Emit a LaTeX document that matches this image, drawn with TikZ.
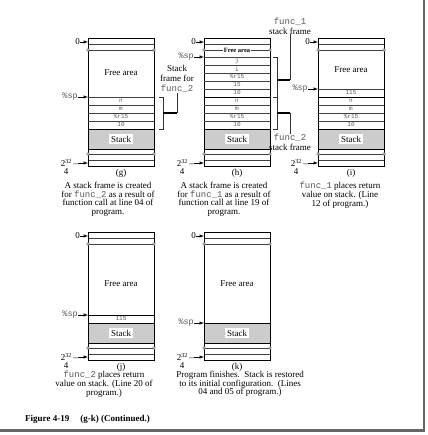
\documentclass[tikz,border=0pt]{standalone}
\usepackage{fontspec}
\setmainfont{Liberation Serif}
\setmonofont{Liberation Mono}
\usepackage{tikz}
\usetikzlibrary{shapes,arrows,positioning,calc}
\usepackage{xcolor}
\definecolor{stackgray}{gray}{0.8}
\definecolor{codegray}{gray}{0.35}
\newcommand{\cd}[1]{\textcolor{codegray}{\texttt{#1}}}

\begin{document}
\begin{tikzpicture}[x=1pt,y=-1pt,
        txt/.style={font=\fontsize{9}{8.7}\selectfont, inner sep=0pt, align=center},
        code/.style={font=\ttfamily\fontsize{8.5}{8.7}\selectfont, text=codegray, inner sep=0pt},
        cell/.style={font=\ttfamily\fontsize{6}{6}\selectfont, text=codegray, inner sep=0pt},
        ptr/.style={-latex, line width=0.5pt},
        frame/.style={line width=0.7pt},
        sep/.style={line width=0.35pt, black!75},
        bolt/.style={circle, draw=black!70, fill=gray!55, line width=0.3pt, inner sep=0pt, minimum size=3pt},
        brak/.style={line width=0.4pt, black!80},
        lead/.style={line width=1.5pt}]
    \useasboundingbox (0,0) rectangle (427,435);
    % the five memory pictures
    \foreach \px/\py/\nr/\lab in {88/38/4/g,204/38/9/h,318/38/5/i,88/232/1/j,204/232/0/k} {
        \pgfmathsetmacro{\spy}{\py+91-8*\nr}
        \draw[fill=stackgray,frame] (\px,\py+91) rectangle (\px+66,\py+111);
        \foreach \dy in {6,12,116,122}
            \draw[sep] (\px,\py+\dy) -- (\px+66,\py+\dy);
        \draw[frame] (\px,\spy) -- (\px+66,\spy);
        \draw[frame] (\px,\py) rectangle (\px+66,\py+128);
        \foreach \dx in {0,66} {
            \foreach \dy in {12,116} {
                \node[bolt] at (\px+\dx,\py+\dy) {};
            }
        }
        \node[txt, fill=white, inner sep=1.6pt] (stack-\lab) at (\px+33,\py+101) {Stack};
        % address labels
        \coordinate (lo-\lab) at (\px,\py+4);
        \coordinate (sp-\lab) at (\px,\spy);
        \coordinate (hi-\lab) at (\px,\py+125);
        \node[txt, anchor=east] (zero-\lab) at (\px-8,\py+4) {0};
        \node[code, anchor=east] (reg-\lab) at (\px-10,\spy) {\%sp};
        \node[txt, anchor=east] (top-\lab) at (\px-10,\py+125) {2\textsuperscript{32}\,–};
        \node[txt] (four-\lab) at (\px-22,\py+133.5) {4};
        \draw[ptr] (zero-\lab) -- (lo-\lab);
        \draw[ptr] (reg-\lab) -- (sp-\lab);
        \draw[ptr] (top-\lab) -- (hi-\lab);
        \node[txt] (tag-\lab) at (\px+33,\py+135.5) {(\lab)};
    }
    % free area
    \node[txt] (free-g) at (121,73) {Free area};
    \node[txt, font=\bfseries\fontsize{6.5}{6.5}\selectfont, fill=white, inner sep=0.8pt] (free-h) at (237,50.5) {Free area};
    \node[txt] (free-i) at (351,70) {Free area};
    \node[txt] (free-j) at (121,284) {Free area};
    \node[txt] (free-k) at (237,284) {Free area};
    % stack contents
    \foreach \t [count=\k from 0] in {n,m,\%r15,10} {
        \node[cell] (g-\k) at (121,101+8*\k) {\t};
        \draw[sep] (88,97+8*\k) -- ++(66,0);
    }
    \foreach \t [count=\k from 0] in {j,i,\%r15,15,10,n,m,\%r15,10} {
        \node[cell] (h-\k) at (237,61+8*\k) {\t};
        \draw[sep] (204,57+8*\k) -- ++(66,0);
    }
    \foreach \t [count=\k from 0] in {115,n,m,\%r15,10} {
        \node[cell] (i-\k) at (351,93+8*\k) {\t};
        \draw[sep] (318,89+8*\k) -- ++(66,0);
    }
    \node[cell] (j-0) at (121,319) {115};
    \draw[frame] (204,97) -- ++(66,0);
    \draw[frame] (318,97) -- ++(66,0);
    % frame brackets
    \node[txt, font=\fontsize{9}{9.8}\selectfont] (note-g) at (177,79) {Stack\\frame for\\\cd{func\_2}};
    \draw[brak] (159,97) -- (163,97) -- (163,129) -- (159,129);
    \coordinate (mid-g) at (163,113);
    \coordinate (knee-g) at (177,113);
    \draw[lead] (mid-g) -- (knee-g);
    \draw[brak] (knee-g) -- (note-g);
    \node[txt, font=\fontsize{9}{9.8}\selectfont] (note-h1) at (290,26) {\cd{func\_1}\\stack frame};
    \node[txt, font=\fontsize{9}{9.8}\selectfont] (note-h2) at (290,142) {\cd{func\_2}\\stack frame};
    \draw[brak] (273,57) -- (277,57) -- (277,97) -- (273,97);
    \draw[brak] (273,97) -- (277,97) -- (277,129) -- (273,129);
    \coordinate (mid-h1) at (277,80);
    \coordinate (knee-h1) at (290,80);
    \coordinate (mid-h2) at (277,113);
    \coordinate (knee-h2) at (290,113);
    \draw[lead] (mid-h1) -- (knee-h1);
    \draw[lead] (mid-h2) -- (knee-h2);
    \draw[brak] (knee-h1) -- (note-h1);
    \draw[brak] (knee-h2) -- (note-h2);
    % captions
    \node[txt, anchor=north] (cap-g) at (108,182) {A stack frame is created\\for \cd{func\_2} as a result of\\function call at line 04 of\\program.};
    \node[txt, anchor=north] (cap-h) at (224,182) {A stack frame is created\\for \cd{func\_1} as a result of\\function call at line 19 of\\program.};
    \node[txt, anchor=north] (cap-i) at (340,182) {\cd{func\_1} places return\\value on stack. (Line\\12 of program.)};
    \node[txt, anchor=north] (cap-j) at (104,371) {\cd{func\_2} places return\\value on stack. (Line 20 of\\program.)};
    \node[txt, anchor=north] (cap-k) at (240,371) {Program finishes.\ \ Stack is restored\\to its initial configuration.\ \ (Lines\\04 and 05 of program.)};
    \node[txt, anchor=west, font=\bfseries\fontsize{9}{8.7}\selectfont] (fig) at (25,419) {Figure 4-19\hspace{11pt}(g-k) (Continued.)};
    % page edge
    \draw[line width=2.2pt, black!60] (424,0) -- (424,430.5) -- (0,430.5);
\end{tikzpicture}
\end{document}
